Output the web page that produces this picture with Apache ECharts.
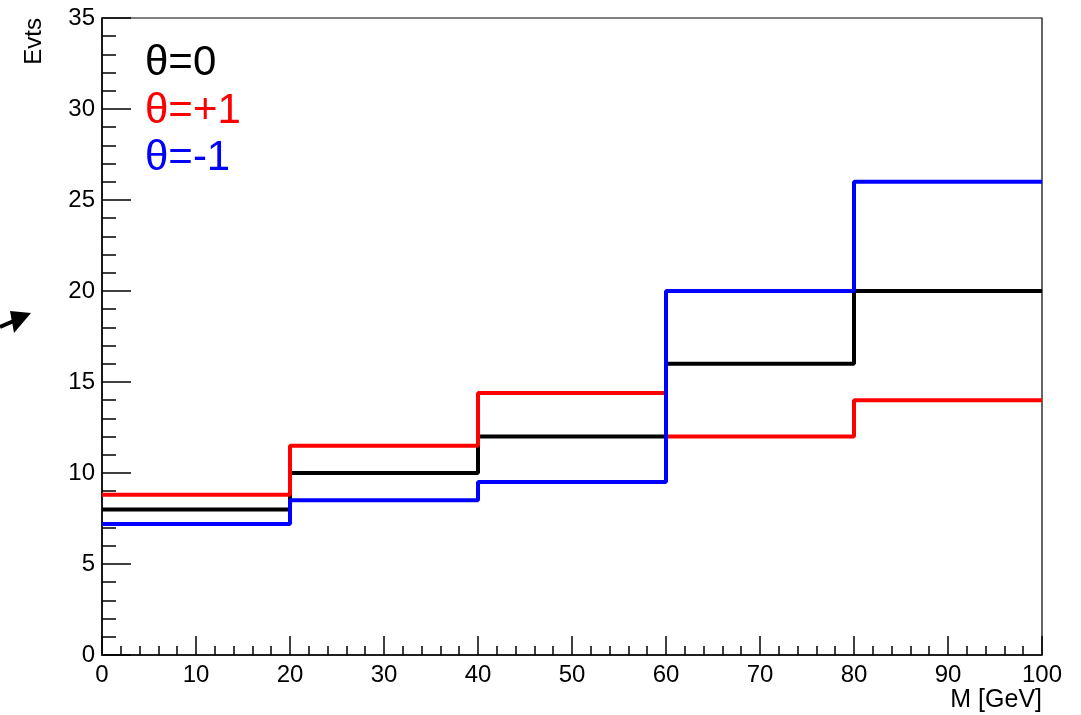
<!DOCTYPE html>
<html>
<head>
<meta charset="utf-8">
<script src="https://cdn.jsdelivr.net/npm/echarts@6/dist/echarts.min.js"></script>
<style>html,body{margin:0;padding:0;background:#fff}#c{width:1081px;height:715px}</style>
</head>
<body>
<div id="c"></div>
<script>
// Bin edges (M [GeV]) and bin contents
const binEdges = [0, 20, 40, 60, 80, 100];
const seriesNames = ['θ=0', 'θ=+1', 'θ=-1'];
const theta0 = [8, 10, 12, 16, 20];
const thetaPlus1 = [8.8, 11.5, 14.4, 12, 14];
const thetaMinus1 = [7.2, 8.5, 9.5, 20, 26];
const colors = ['#000000', '#ff0000', '#0000ff'];

function histPoints(vals) {
  const pts = vals.map((v, i) => [binEdges[i], v]);
  pts.push([binEdges[binEdges.length - 1], vals[vals.length - 1]]);
  return pts;
}

const font = 'Liberation Sans, Arial, Helvetica, sans-serif';
const chart = echarts.init(document.getElementById('c'));
const allVals = [theta0, thetaPlus1, thetaMinus1];

chart.setOption({
  animation: false,
  backgroundColor: '#ffffff',
  grid: { left: 102, right: 39, top: 18, bottom: 60, show: true, borderColor: '#000', borderWidth: 1.2, containLabel: false },
  legend: {
    orient: 'vertical', left: 140, top: 40, padding: 0, itemGap: 0,
    itemWidth: 0, itemHeight: 0, selectedMode: false,
    textStyle: { fontFamily: font, fontSize: 42, lineHeight: 47.5 },
    data: seriesNames.map((n, i) => ({ name: n, icon: 'rect', textStyle: { color: colors[i] } }))
  },
  xAxis: {
    type: 'value', min: 0, max: 100, interval: 10,
    axisLine: { show: true, lineStyle: { color: '#000', width: 1.5 } },
    axisTick: { show: true, inside: true, length: 19, lineStyle: { color: '#000', width: 1.5 } },
    minorTick: { show: true, splitNumber: 5, length: 9, lineStyle: { color: '#000', width: 1.5 } },
    splitLine: { show: false },
    axisLabel: { fontFamily: font, fontSize: 24, color: '#000', margin: 8, showMinLabel: true, showMaxLabel: true }
  },
  yAxis: {
    type: 'value', min: 0, max: 35, interval: 5,
    axisLine: { show: true, lineStyle: { color: '#000', width: 1.5 } },
    axisTick: { show: true, inside: true, length: 29, lineStyle: { color: '#000', width: 1.5 } },
    minorTick: { show: true, splitNumber: 5, length: 14, lineStyle: { color: '#000', width: 1.5 } },
    splitLine: { show: false },
    axisLabel: { fontFamily: font, fontSize: 24, color: '#000', margin: 7 }
  },
  graphic: [
    { type: 'text', x: 34, y: 18, rotation: Math.PI / 2,
      style: { text: 'Evts', fontFamily: font, fontSize: 24, fill: '#000', align: 'right', verticalAlign: 'middle' } },
    { type: 'text', x: 1042, y: 700,
      style: { text: 'M [GeV]', fontFamily: font, fontSize: 25, fill: '#000', align: 'right', verticalAlign: 'middle' } },
    { type: 'line', shape: { x1: 0, y1: 327, x2: 16, y2: 320 }, style: { stroke: '#000', lineWidth: 4 } },
    { type: 'polygon', shape: { points: [[10, 311], [31, 313], [14, 333]] }, style: { fill: '#000' } }
  ],
  series: allVals.map((vals, i) => ({
    name: seriesNames[i], type: 'line', step: 'end', data: histPoints(vals),
    symbol: 'none', lineStyle: { color: colors[i], width: 4 }, itemStyle: { color: colors[i] },
    z: 2 + i
  }))
});
</script>
</body>
</html>
